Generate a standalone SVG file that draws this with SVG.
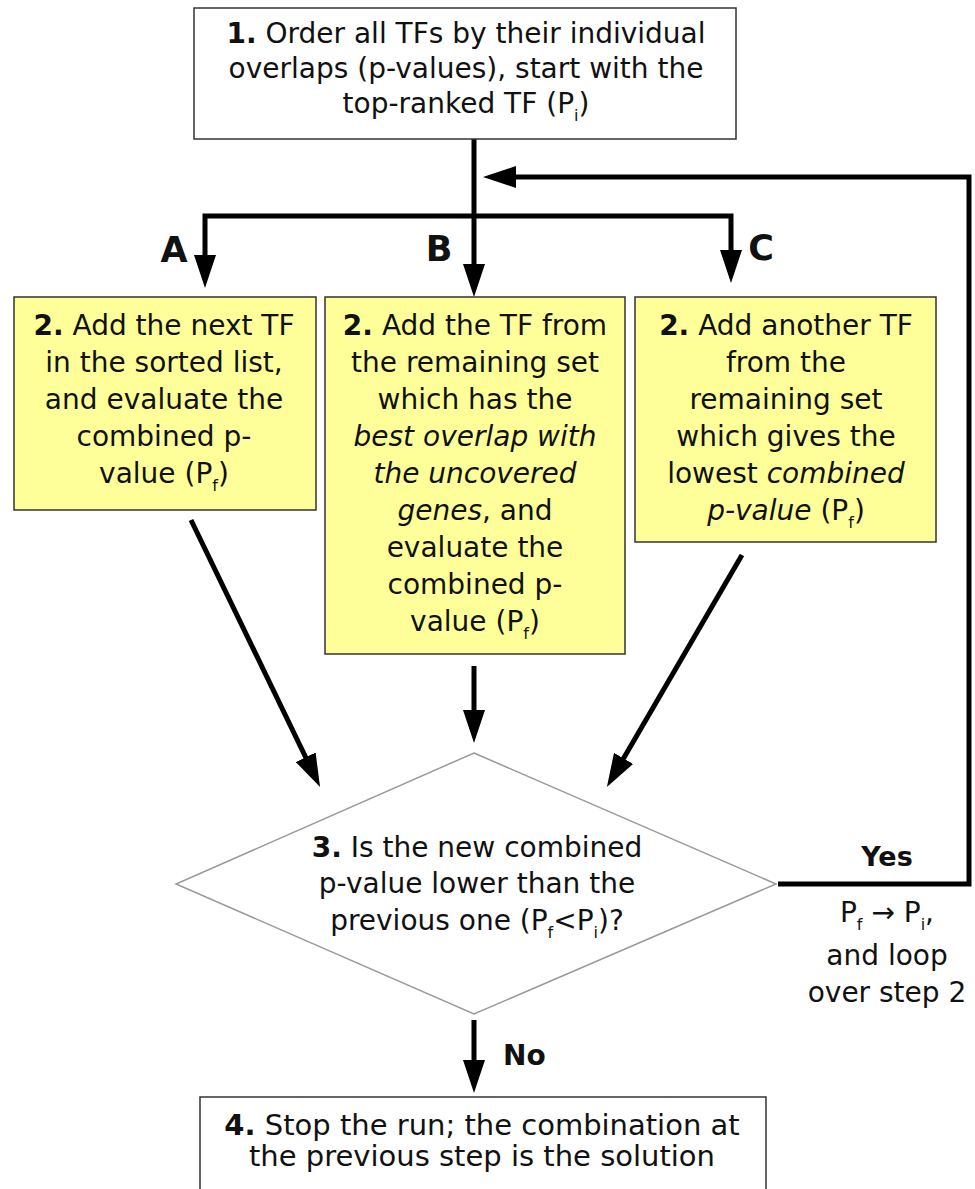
<svg xmlns="http://www.w3.org/2000/svg" width="975" height="1189" viewBox="0 0 975 1189">
<style>
text{font-family:"DejaVu Sans","Liberation Sans",sans-serif;fill:#111;}
.t{font-size:28px;text-anchor:middle;}
.b{font-weight:bold;}
.i{font-style:italic;}
.s{font-size:16px;}
.lbl{font-size:35px;font-weight:bold;text-anchor:middle;}
.box{fill:#fff;stroke:#333;stroke-width:1.5;}
.ybox{fill:#ffff99;stroke:#333;stroke-width:1.5;}
.dia{fill:#fff;stroke:#999;stroke-width:1.5;}
.c{fill:none;stroke:#000;stroke-width:5;stroke-linejoin:miter;}
</style>
<defs>
<marker id="ah" markerUnits="userSpaceOnUse" markerWidth="34" markerHeight="22" refX="3" refY="11" orient="auto" viewBox="0 0 34 22">
<path d="M0,0 L33,11 L0,22 z" fill="#000"/>
</marker>
</defs>

<g id="connectors">
<path class="c" d="M474,139 V267" marker-end="url(#ah)"/>
<path class="c" d="M474,216 H205 V258" marker-end="url(#ah)"/>
<path class="c" d="M474,216 H731 V253" marker-end="url(#ah)"/>
<path class="c" d="M191,520 L307,760" marker-end="url(#ah)"/>
<path class="c" d="M474,666 V713" marker-end="url(#ah)"/>
<path class="c" d="M742,555 L622,761" marker-end="url(#ah)"/>
<path class="c" d="M474,1020 V1063" marker-end="url(#ah)"/>
<path class="c" d="M778,884 H969 V177 H513" marker-end="url(#ah)"/>
<text class="lbl" x="174" y="262">A</text>
<text class="lbl" x="439" y="261">B</text>
<text class="lbl" x="761" y="260">C</text>
<text style="font-size:27px;font-weight:bold;text-anchor:middle" x="887" y="866">Yes</text>
<text class="t" x="887" y="922">P<tspan class="s" dy="8">f</tspan><tspan dy="-8"> → P</tspan><tspan class="s" dy="8">i</tspan><tspan dy="-8">,</tspan></text>
<text class="t" x="887" y="965">and loop</text>
<text class="t" x="887" y="1002">over step 2</text>
<text style="font-size:28px;font-weight:bold" x="503" y="1065">No</text>
</g>

<g id="node1">
<rect class="box" x="194" y="8" width="542" height="131"/>
<text class="t" x="466" y="43"><tspan class="b">1.</tspan> Order all TFs by their individual</text>
<text class="t" x="466" y="78">overlaps (p-values), start with the</text>
<text class="t" x="466" y="113">top-ranked TF (P<tspan class="s" dy="8">i</tspan><tspan dy="-8">)</tspan></text>
</g>

<g id="node2a">
<rect class="ybox" x="14" y="297" width="302" height="213"/>
<text class="t" x="164" y="335"><tspan class="b">2.</tspan> Add the next TF</text>
<text class="t" x="164" y="372">in the sorted list,</text>
<text class="t" x="164" y="409">and evaluate the</text>
<text class="t" x="164" y="446">combined p-</text>
<text class="t" x="164" y="483">value (P<tspan class="s" dy="8">f</tspan><tspan dy="-8">)</tspan></text>
</g>

<g id="node2b">
<rect class="ybox" x="325" y="297" width="300" height="357"/>
<text class="t" x="475" y="335"><tspan class="b">2.</tspan> Add the TF from</text>
<text class="t" x="475" y="372">the remaining set</text>
<text class="t" x="475" y="409">which has the</text>
<text class="t i" x="475" y="446">best overlap with</text>
<text class="t i" x="475" y="483">the uncovered</text>
<text class="t" x="475" y="520"><tspan class="i">genes</tspan>, and</text>
<text class="t" x="475" y="557">evaluate the</text>
<text class="t" x="475" y="594">combined p-</text>
<text class="t" x="475" y="631">value (P<tspan class="s" dy="8">f</tspan><tspan dy="-8">)</tspan></text>
</g>

<g id="node2c">
<rect class="ybox" x="635" y="297" width="301" height="245"/>
<text class="t" x="786" y="335"><tspan class="b">2.</tspan> Add another TF</text>
<text class="t" x="786" y="372">from the</text>
<text class="t" x="786" y="409">remaining set</text>
<text class="t" x="786" y="446">which gives the</text>
<text class="t" x="786" y="483">lowest <tspan class="i">combined</tspan></text>
<text class="t" x="786" y="520"><tspan class="i">p-value</tspan> (P<tspan class="s" dy="8">f</tspan><tspan dy="-8">)</tspan></text>
</g>

<g id="node3">
<polygon class="dia" points="474,753 776,884 474,1014 176,884"/>
<text class="t" x="477" y="857"><tspan class="b">3.</tspan> Is the new combined</text>
<text class="t" x="477" y="893">p-value lower than the</text>
<text class="t" x="477" y="930">previous one (P<tspan class="s" dy="8">f</tspan><tspan dy="-8">&lt;P</tspan><tspan class="s" dy="8">i</tspan><tspan dy="-8">)?</tspan></text>
</g>

<g id="node4">
<rect class="box" x="200" y="1097" width="566" height="110"/>
<text class="t" x="482" y="1135" style="font-size:29px"><tspan class="b">4.</tspan> Stop the run; the combination at</text>
<text class="t" x="482" y="1166" style="font-size:29px">the previous step is the solution</text>
</g>
</svg>
